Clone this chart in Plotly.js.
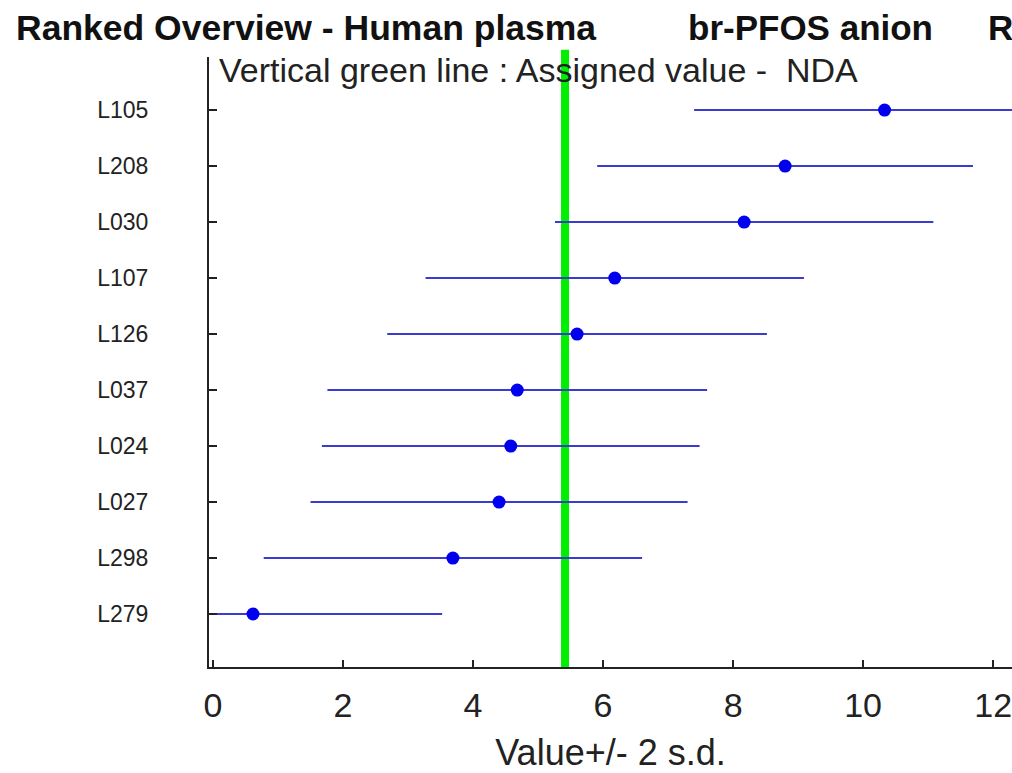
<!DOCTYPE html>
<html>
<head>
<meta charset="utf-8">
<script src="https://cdn.plot.ly/plotly-3.0.1.min.js"></script>
<style>html,body{margin:0;padding:0;background:#fff;}#chart{width:1012px;height:773px;}</style>
</head>
<body>
<div id="chart"></div>
<script>
// Labs, ranked bottom (lowest) to top (highest)
const labs = ["L279", "L298", "L027", "L024", "L037", "L126", "L107", "L030", "L208", "L105"];
const values = [0.615, 3.69, 4.40, 4.58, 4.68, 5.60, 6.18, 8.17, 8.80, 10.33];
const twoSD = [2.91, 2.91, 2.90, 2.905, 2.92, 2.92, 2.91, 2.91, 2.89, 2.93];
const assignedValue = 5.415;
const xTicks = [0, 2, 4, 6, 8, 10, 12];

const W = 1012, H = 773;
const L = 209, R = 0, T = 57, B = 106;
const pw = W - L - R, ph = H - T - B;
const px = v => (v - L) / pw;
const py = v => (H - B - v) / ph;

const trace = {
  type: 'scatter',
  mode: 'markers',
  x: values,
  y: labs,
  marker: {color: '#0000ee', size: 13},
  error_x: {type: 'data', array: twoSD, symmetric: true, color: '#3b3bcf', thickness: 2, width: 0},
  hoverinfo: 'x+y',
  cliponaxis: true
};

const font = 'Liberation Sans, Arial, sans-serif';

const layout = {
  width: W, height: H,
  margin: {l: L, r: R, t: T, b: B, pad: 0},
  paper_bgcolor: '#ffffff',
  plot_bgcolor: '#ffffff',
  showlegend: false,
  font: {family: font, color: '#111111'},
  xaxis: {
    range: [-0.0615, 12.29],
    tickvals: xTicks,
    ticktext: xTicks.map(String),
    ticks: 'inside', ticklen: 7, tickwidth: 1.5, tickcolor: '#222',
    showline: true, linecolor: '#222', linewidth: 2,
    showgrid: false, zeroline: false,
    tickfont: {family: font, size: 34, color: '#222'},
    ticklabelstandoff: 7,
    ticklabeloverflow: 'allow',
    title: {text: 'Value+/- 2 s.d.', font: {family: font, size: 36, color: '#222'}, standoff: 17}
  },
  yaxis: {
    type: 'category',
    categoryorder: 'array', categoryarray: labs,
    range: [-0.946, 9.947],
    ticks: 'inside', ticklen: 8, tickwidth: 1.5, tickcolor: '#222',
    showline: true, linecolor: '#222', linewidth: 2,
    showgrid: false, zeroline: false,
    tickfont: {family: font, size: 23, color: '#222'},
    ticklabelstandoff: 54
  },
  shapes: [{
    type: 'line', xref: 'x', yref: 'paper',
    x0: assignedValue, x1: assignedValue, y0: 0, y1: 1.012,
    line: {color: '#00ee00', width: 8},
    layer: 'below'
  }],
  annotations: [
    {text: '<b>Ranked Overview - Human plasma</b>', xref: 'paper', yref: 'paper', x: px(14), y: py(28), xanchor: 'left', yanchor: 'middle', showarrow: false, font: {family: font, size: 35.5, color: '#111'}},
    {text: '<b>br-PFOS anion</b>', xref: 'paper', yref: 'paper', x: px(686), y: py(28), xanchor: 'left', yanchor: 'middle', showarrow: false, font: {family: font, size: 35, color: '#111'}},
    {text: '<b>R</b>', xref: 'paper', yref: 'paper', x: px(986), y: py(28), xanchor: 'left', yanchor: 'middle', showarrow: false, font: {family: font, size: 35, color: '#111'}},
    {text: 'Vertical green line : Assigned value -  NDA', xref: 'paper', yref: 'paper', x: px(217), y: py(70), xanchor: 'left', yanchor: 'middle', showarrow: false, font: {family: font, size: 34, color: '#222'}}
  ]
};

Plotly.newPlot('chart', [trace], layout, {displayModeBar: false, staticPlot: true});
</script>
</body>
</html>
